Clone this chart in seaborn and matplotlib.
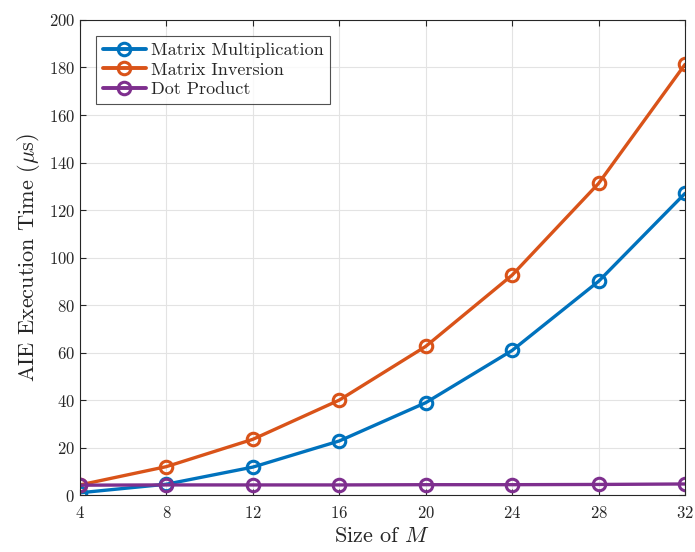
import numpy as np
import pandas as pd
import matplotlib
matplotlib.use("Agg")
import matplotlib.pyplot as plt
import seaborn as sns

# Data
sizes = [4, 8, 12, 16, 20, 24, 28, 32]
matmul = [1.0, 4.6, 11.8, 22.8, 38.9, 60.9, 90.0, 127.0]
matinv = [4.3, 12.0, 23.5, 40.0, 62.6, 92.6, 131.2, 181.3]
dotprod = [4.2, 4.3, 4.3, 4.3, 4.4, 4.4, 4.5, 4.7]
series_names = ["Matrix Multiplication", "Matrix Inversion", "Dot Product"]
colors = ["#0072BD", "#D95319", "#7E2F8E"]

df = pd.DataFrame({
    "M": sizes * 3,
    "time": matmul + matinv + dotprod,
    "series": [series_names[0]] * 8 + [series_names[1]] * 8 + [series_names[2]] * 8,
})

sns.set_style("ticks")
plt.rcParams["font.family"] = ["cmr10", "DejaVu Serif"]
plt.rcParams["mathtext.fontset"] = "cm"
plt.rcParams["axes.formatter.use_mathtext"] = True

fig = plt.figure(figsize=(6.95, 5.52), dpi=100)
ax = fig.add_axes([0.115, 0.103, 0.8706, 0.8608])

sns.lineplot(data=df, x="M", y="time", hue="series", palette=colors,
             marker="o", markersize=9, markerfacecolor="none",
             markeredgewidth=2.2, linewidth=2.4, ax=ax, legend=False)
for line, c in zip(ax.lines, colors):
    line.set_markeredgecolor(c)

ax.set_xlim(4, 32)
ax.set_ylim(0, 200)
ax.set_xticks(sizes)
ax.set_yticks(np.arange(0, 201, 20))
ax.grid(True, color="#e3e3e3", linewidth=0.8)
ax.tick_params(direction="in", top=True, right=True, labelsize=12, length=4,
               width=0.8, colors="#262626")
ax.tick_params(axis="x", pad=7)
for s in ax.spines.values():
    s.set_linewidth(0.8)
    s.set_color("#262626")
ax.set_xlabel("Size of $M$", fontsize=16, color="#262626", labelpad=4)
ax.set_ylabel(r"AIE Execution Time ($\mu$s)", fontsize=16, color="#262626", labelpad=5)

handles = [plt.Line2D([], [], color=c, marker="o", markersize=9, markerfacecolor="none",
                      markeredgewidth=2.2, linewidth=2.8) for c in colors]
leg = ax.legend(handles, series_names, loc="upper left", bbox_to_anchor=(0.012, 0.985),
                fontsize=13, frameon=True, fancybox=False, edgecolor="#262626",
                handlelength=2.4, borderpad=0.35, labelspacing=0.22, handletextpad=0.3)
leg.get_frame().set_linewidth(0.8)

fig.savefig("out.png", dpi=100)
